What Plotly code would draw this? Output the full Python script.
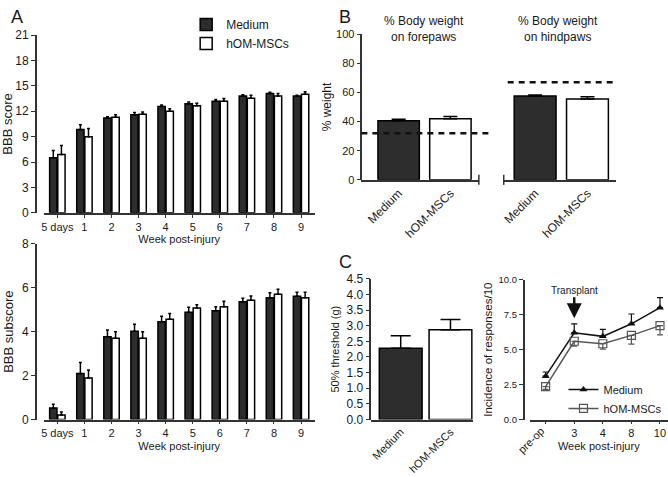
import plotly.graph_objects as go

W, H = 668, 477

# ---------------- data ----------------
weeks_a = ["5 days", "1", "2", "3", "4", "5", "6", "7", "8", "9"]
bbb_medium = [6.5, 9.85, 11.2, 11.6, 12.55, 12.9, 13.2, 13.8, 14.1, 13.8]
bbb_medium_err = [0.85, 0.55, 0.15, 0.25, 0.2, 0.2, 0.2, 0.15, 0.15, 0.1]
bbb_hom = [6.9, 9.0, 11.3, 11.65, 12.0, 12.65, 13.2, 13.55, 13.8, 14.0]
bbb_hom_err = [1.05, 0.95, 0.3, 0.25, 0.3, 0.3, 0.3, 0.35, 0.3, 0.3]

sub_medium = [0.52, 2.1, 3.77, 4.02, 4.45, 4.89, 4.95, 5.36, 5.54, 5.61]
sub_medium_err = [0.17, 0.5, 0.31, 0.32, 0.25, 0.22, 0.19, 0.16, 0.23, 0.19]
sub_hom = [0.21, 1.89, 3.7, 3.7, 4.57, 5.08, 5.14, 5.43, 5.7, 5.55]
sub_hom_err = [0.13, 0.36, 0.3, 0.3, 0.26, 0.15, 0.25, 0.2, 0.23, 0.25]

groups = ["Medium", "hOM-MSCs"]
fore_weight = [40.5, 42.0]
fore_err = [1.0, 1.5]
hind_weight = [57.5, 55.5]
hind_err = [0.8, 1.6]
normal_weight = [32, 67]  # dashed reference lines (forepaws, hindpaws)

threshold = [2.28, 2.87]
threshold_err = [0.4, 0.33]

weeks_c = ["pre-op", "3", "4", "8", "10"]
inc_medium = [3.1, 6.2, 5.95, 6.85, 8.0]
inc_medium_err = [0.3, 0.65, 0.5, 0.7, 0.72]
inc_hom = [2.35, 5.6, 5.42, 6.02, 6.72]
inc_hom_err = [0.2, 0.35, 0.38, 0.62, 0.67]
transplant_week = "3"

# ---------------- style ----------------
FONT = "Arial, Liberation Sans, sans-serif"
TXT = "#1a1a1a"
AX = "#333333"
DARK = "#2d2d2d"


def xd(a, b):
    return [a / W, b / W]


def yd(top, bottom):
    return [1 - bottom / H, 1 - top / H]


def err_up(vals, cap, color="#000", th=1.5):
    return dict(type="data", array=vals, symmetric=False, arrayminus=[0] * len(vals),
                color=color, thickness=th, width=cap)


fig = go.Figure()

# Panel A top
fig.add_trace(go.Bar(x=weeks_a, y=bbb_medium, name="Medium", xaxis="x", yaxis="y",
                     width=0.27, offset=-0.285, marker=dict(color=DARK, line=dict(color="#000", width=1.5)),
                     error_y=err_up(bbb_medium_err, 1.5), legend="legend", legendrank=1))
fig.add_trace(go.Bar(x=weeks_a, y=bbb_hom, name="hOM-MSCs", xaxis="x", yaxis="y",
                     width=0.27, offset=0.015, marker=dict(color="white", line=dict(color="#000", width=1.5)),
                     error_y=err_up(bbb_hom_err, 1.5), legend="legend", legendrank=2))
# Panel A bottom
fig.add_trace(go.Bar(x=weeks_a, y=sub_medium, name="Medium", xaxis="x2", yaxis="y2", showlegend=False,
                     width=0.27, offset=-0.285, marker=dict(color=DARK, line=dict(color="#000", width=1.5)),
                     error_y=err_up(sub_medium_err, 1.5)))
fig.add_trace(go.Bar(x=weeks_a, y=sub_hom, name="hOM-MSCs", xaxis="x2", yaxis="y2", showlegend=False,
                     width=0.27, offset=0.015, marker=dict(color="white", line=dict(color="#000", width=1.5)),
                     error_y=err_up(sub_hom_err, 1.5)))

# Panel B and C-left
fills = [DARK, "white"]
for i, g in enumerate(groups):
    fig.add_trace(go.Bar(x=[g], y=[fore_weight[i]], name=g, xaxis="x3", yaxis="y3", showlegend=False,
                         width=0.8, marker=dict(color=fills[i], line=dict(color="#000", width=1.5)),
                         error_y=err_up([fore_err[i]], 7)))
    fig.add_trace(go.Bar(x=[g], y=[hind_weight[i]], name=g, xaxis="x4", yaxis="y4", showlegend=False,
                         width=0.8, marker=dict(color=fills[i], line=dict(color="#000", width=1.5)),
                         error_y=err_up([hind_err[i]], 7)))
    fig.add_trace(go.Bar(x=[g], y=[threshold[i]], name=g, xaxis="x5", yaxis="y5", showlegend=False,
                         width=0.86, marker=dict(color=fills[i], line=dict(color="#000", width=1.5)),
                         error_y=err_up([threshold_err[i]], 10)))

# Panel C right
fig.add_trace(go.Scatter(x=weeks_c, y=inc_medium, name="Medium", xaxis="x6", yaxis="y6", mode="lines+markers",
                         line=dict(color="#111", width=1.5),
                         marker=dict(symbol="triangle-up", size=7, color="#111"),
                         error_y=err_up(inc_medium_err, 3, "#111", 1.2),
                         legend="legend2"))
fig.add_trace(go.Scatter(x=weeks_c, y=inc_hom, name="hOM-MSCs", xaxis="x6", yaxis="y6", mode="lines+markers",
                         line=dict(color="#555", width=1.5),
                         marker=dict(symbol="square-open", size=8, color="#555", line=dict(width=1.2)),
                         error_y=dict(type="data", array=[0] * 5, symmetric=False, arrayminus=inc_hom_err,
                                      color="#555", thickness=1.2, width=3),
                         legend="legend2"))


def xax(dom, anchor, cats, rng, ticks="", title=None, standoff=4, tickangle=0, fs=11):
    d = dict(domain=dom, anchor=anchor, type="category", categoryorder="array", categoryarray=cats,
             range=rng, showline=True, linecolor=AX, linewidth=1.5, ticks=ticks, ticklen=3,
             tickwidth=1.2, tickcolor=AX, showgrid=False, zeroline=False,
             tickfont=dict(family=FONT, size=fs, color=TXT),
             tickangle=tickangle, fixedrange=True)
    if title:
        d["title"] = dict(text=title, font=dict(family=FONT, size=11, color=TXT), standoff=standoff)
    return d


def yax(dom, pos, rng, dtick, title=None, fmt=None, visible=True, standoff=4, fs=11, tfs=12):
    d = dict(domain=dom, anchor="free", position=pos, range=rng, dtick=dtick, showline=visible,
             linecolor=AX, linewidth=1.5, ticks="outside" if visible else "", ticklen=4, tickwidth=1.2,
             tickcolor=AX, showgrid=False, zeroline=False, tickfont=dict(family=FONT, size=fs, color=TXT),
             showticklabels=visible, fixedrange=True)
    if fmt:
        d["tickformat"] = fmt
    if title:
        d["title"] = dict(text=title, font=dict(family=FONT, size=tfs, color=TXT), standoff=standoff)
    return d


fig.update_layout(
    width=W, height=H, margin=dict(l=0, r=0, t=0, b=0),
    paper_bgcolor="white", plot_bgcolor="white", barmode="overlay",
    font=dict(family=FONT, color=TXT),
    xaxis=xax(xd(41, 313), "y", weeks_a, [-0.5, 9.5], ticks="outside", title="Week post-injury"),
    yaxis=yax(yd(29, 212), 33 / W, [0, 21], 3, title="BBB score", fs=12, tfs=13),
    xaxis2=xax(xd(41, 313), "y2", weeks_a, [-0.5, 9.5], ticks="outside", title="Week post-injury"),
    yaxis2=yax(yd(244, 425), 33 / W, [0, 8], 2, title="BBB subscore", fs=12, tfs=13),
    xaxis3=xax(xd(360, 478), "y3", groups, [-0.72, 1.55], tickangle=-45, fs=12),
    yaxis3=yax(yd(28, 178), 360 / W, [0, 100], 20, title="% weight", tfs=12, standoff=1),
    xaxis4=xax(xd(503, 616), "y4", groups, [-0.6, 1.55], tickangle=-45, fs=12),
    yaxis4=yax(yd(28, 178), 503 / W, [0, 100], 20, visible=False),
    xaxis5=xax(xd(370, 472), "y5", groups, [-0.59, 1.45], tickangle=-45, fs=11),
    yaxis5=yax(yd(280, 425), 369 / W, [0, 4.5], 0.5, title="50% threshold (g)", fmt=".1f", fs=12, tfs=11),
    xaxis6=xax(xd(529, 668), "y6", weeks_c, [-0.56, 4.28], ticks="outside", title="Week post-injury"),
    yaxis6=yax(yd(281, 425), 523 / W, [0, 10], 2.5, title="Incidence of responses/10", fmt=".1f",
               fs=9.5, tfs=11.5, standoff=2),
    legend=dict(x=184 / W, y=1 - 3 / H, xanchor="left", yanchor="top", bgcolor="rgba(0,0,0,0)",
                font=dict(family=FONT, size=12, color=TXT), tracegroupgap=0, itemclick=False),
    legend2=dict(x=563 / W, y=1 - 379 / H, xanchor="left", yanchor="top", bgcolor="rgba(0,0,0,0)",
                 font=dict(family=FONT, size=11, color=TXT), tracegroupgap=0, itemclick=False),
)

# "pre-op" is written rotated as its own label, other week ticks stay horizontal
fig.layout.xaxis6.tickvals = weeks_c
fig.layout.xaxis6.ticktext = [""] + weeks_c[1:]

ann = []
for letter, x, y in [("A", 14, 10), ("B", 344, 10), ("C", 344, 263)]:
    ann.append(dict(text=letter, x=x / W, y=1 - y / H, xref="paper", yref="paper", showarrow=False,
                    font=dict(family=FONT, size=18, color=TXT), xanchor="center", yanchor="middle"))
ann.append(dict(text="% Body weight<br>on forepaws", x=423 / W, y=1 - 23 / H, xref="paper", yref="paper",
                showarrow=False, font=dict(family=FONT, size=12, color=TXT), xanchor="center",
                yanchor="middle"))
ann.append(dict(text="% Body weight<br>on hindpaws", x=558 / W, y=1 - 23 / H, xref="paper", yref="paper",
                showarrow=False, font=dict(family=FONT, size=12, color=TXT), xanchor="center",
                yanchor="middle"))
ann.append(dict(text="pre-op", x=0, y=0, xref="x6", yref="y6", showarrow=False, textangle=-45,
                font=dict(family=FONT, size=11, color=TXT), xanchor="right", yanchor="top", yshift=-2,
                xshift=4))
ann.append(dict(text="Transplant", x=weeks_c.index(transplant_week), y=7.25, xref="x6", yref="y6",
                showarrow=True, ax=0, ay=-28, arrowhead=2, arrowsize=1.2, arrowwidth=2.5, arrowcolor="#111",
                font=dict(family=FONT, size=10, color=TXT)))
fig.update_layout(annotations=ann)

shapes = [
    dict(type="line", xref="x3 domain", yref="y3", x0=0, x1=1.119, y0=normal_weight[0], y1=normal_weight[0],
         line=dict(color="#111", width=2.5, dash="6px,5px")),
    dict(type="line", xref="x4 domain", yref="y4", x0=0.035, x1=1.01, y0=normal_weight[1], y1=normal_weight[1],
         line=dict(color="#111", width=2.5, dash="6px,5px")),
    dict(type="line", xref="x3 domain", yref="y3 domain", x0=1, x1=1, y0=-0.035, y1=0.035,
         line=dict(color=AX, width=1.5)),
    dict(type="line", xref="x4 domain", yref="y4 domain", x0=0, x1=0, y0=-0.035, y1=0.035,
         line=dict(color=AX, width=1.5)),
]
fig.update_layout(shapes=shapes)

fig.write_html("out.html", config={"displayModeBar": False},
               post_script="document.body.style.margin='0';")
